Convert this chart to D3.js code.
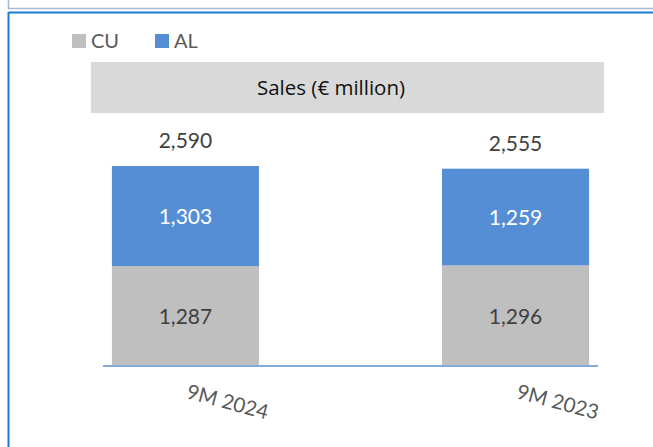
<!DOCTYPE html>
<html><head><meta charset="utf-8">
<script src="https://cdn.jsdelivr.net/npm/d3@7"></script>
<style>html,body{margin:0;padding:0;background:#fff;}svg{display:block;}</style>
</head><body>
<svg id="c" width="653" height="447"></svg>
<script>
const categories = ["9M 2024", "9M 2023"];
const seriesNames = ["CU", "AL"];
const cuValues = [1287, 1296];
const alValues = [1303, 1259];
const totals = [2590, 2555];
const title = "Sales (€ million)";
const colors = {CU: "#bfbfbf", AL: "#558ed5"};

const svg = d3.select("#c");
const font = "Lato, 'Open Sans', sans-serif";

// frames
svg.append("line").attr("x1", 8.5).attr("y1", 0).attr("x2", 8.5).attr("y2", 9).attr("stroke", "#a9b9d3").attr("stroke-width", 1.5);
svg.append("line").attr("x1", 8).attr("y1", 8.5).attr("x2", 653).attr("y2", 8.5).attr("stroke", "#a9b9d3").attr("stroke-width", 1.5);
svg.append("line").attr("x1", 8.5).attr("y1", 12.5).attr("x2", 653).attr("y2", 12.5).attr("stroke", "#1f78d1").attr("stroke-width", 2);
svg.append("line").attr("x1", 8.5).attr("y1", 12).attr("x2", 8.5).attr("y2", 447).attr("stroke", "#1f78d1").attr("stroke-width", 2);

const data = categories.map((c, i) => ({cat: c, CU: cuValues[i], AL: alValues[i], total: totals[i]}));
const stack = d3.stack().keys(seriesNames)(data);

const x = d3.scaleBand().domain(categories).range([103, 598]).paddingInner(0.5545).paddingOuter(0.027).align(0.5);
const y = d3.scaleLinear().domain([0, 2590]).range([365, 166]);

// title box
svg.append("rect").attr("x", 91).attr("y", 62).attr("width", 513).attr("height", 51).attr("fill", "#d9d9d9");
svg.append("text").attr("x", 331).attr("y", 88).attr("dy", "0.35em").attr("text-anchor", "middle")
  .attr("font-family", "'Open Sans', sans-serif").attr("font-size", 20.5).attr("fill", "#111111").text(title);

// legend
const leg = svg.append("g");
const legX = [72, 155];
seriesNames.forEach((s, i) => {
  leg.append("rect").attr("x", legX[i]).attr("y", 34).attr("width", 14).attr("height", 14).attr("fill", colors[s]);
  leg.append("text").attr("x", legX[i] + 19).attr("y", 41).attr("dy", "0.35em")
    .attr("font-family", font).attr("font-size", 20).attr("fill", "#595959").text(s);
});

// bars
stack.forEach(layer => {
  svg.append("g").selectAll("rect").data(layer).join("rect")
    .attr("x", d => x(d.data.cat)).attr("width", x.bandwidth())
    .attr("y", d => y(d[1])).attr("height", d => y(d[0]) - y(d[1]))
    .attr("fill", colors[layer.key]);
  svg.append("g").selectAll("text").data(layer).join("text")
    .attr("x", d => x(d.data.cat) + x.bandwidth() / 2)
    .attr("y", d => (y(d[0]) + y(d[1])) / 2 + 1).attr("dy", "0.35em")
    .attr("text-anchor", "middle").attr("font-family", font).attr("font-size", 21)
    .attr("fill", layer.key === "AL" ? "#ffffff" : "#404040")
    .text(d => d3.format(",")(d.data[layer.key]));
});

// totals
svg.append("g").selectAll("text").data(data).join("text")
  .attr("x", d => x(d.cat) + x.bandwidth() / 2).attr("y", d => y(d.total) - 25).attr("dy", "0.35em")
  .attr("text-anchor", "middle").attr("font-family", font).attr("font-size", 21).attr("fill", "#404040")
  .text(d => d3.format(",")(d.total));

// axis
const axis = svg.append("g").attr("transform", "translate(0,366)").call(d3.axisBottom(x).tickSize(0).tickPadding(0));
axis.select(".domain").attr("stroke", "#5b8ccf").attr("stroke-width", 1.5).attr("d", "M103,0H598");
axis.selectAll(".tick text")
  .attr("font-family", font).attr("font-size", 20.5).attr("fill", "#595959")
  .attr("text-anchor", "start").attr("dy", null)
  .attr("x", 0).attr("y", 0).attr("transform", "translate(0,32) rotate(15)");
</script>
</body></html>
